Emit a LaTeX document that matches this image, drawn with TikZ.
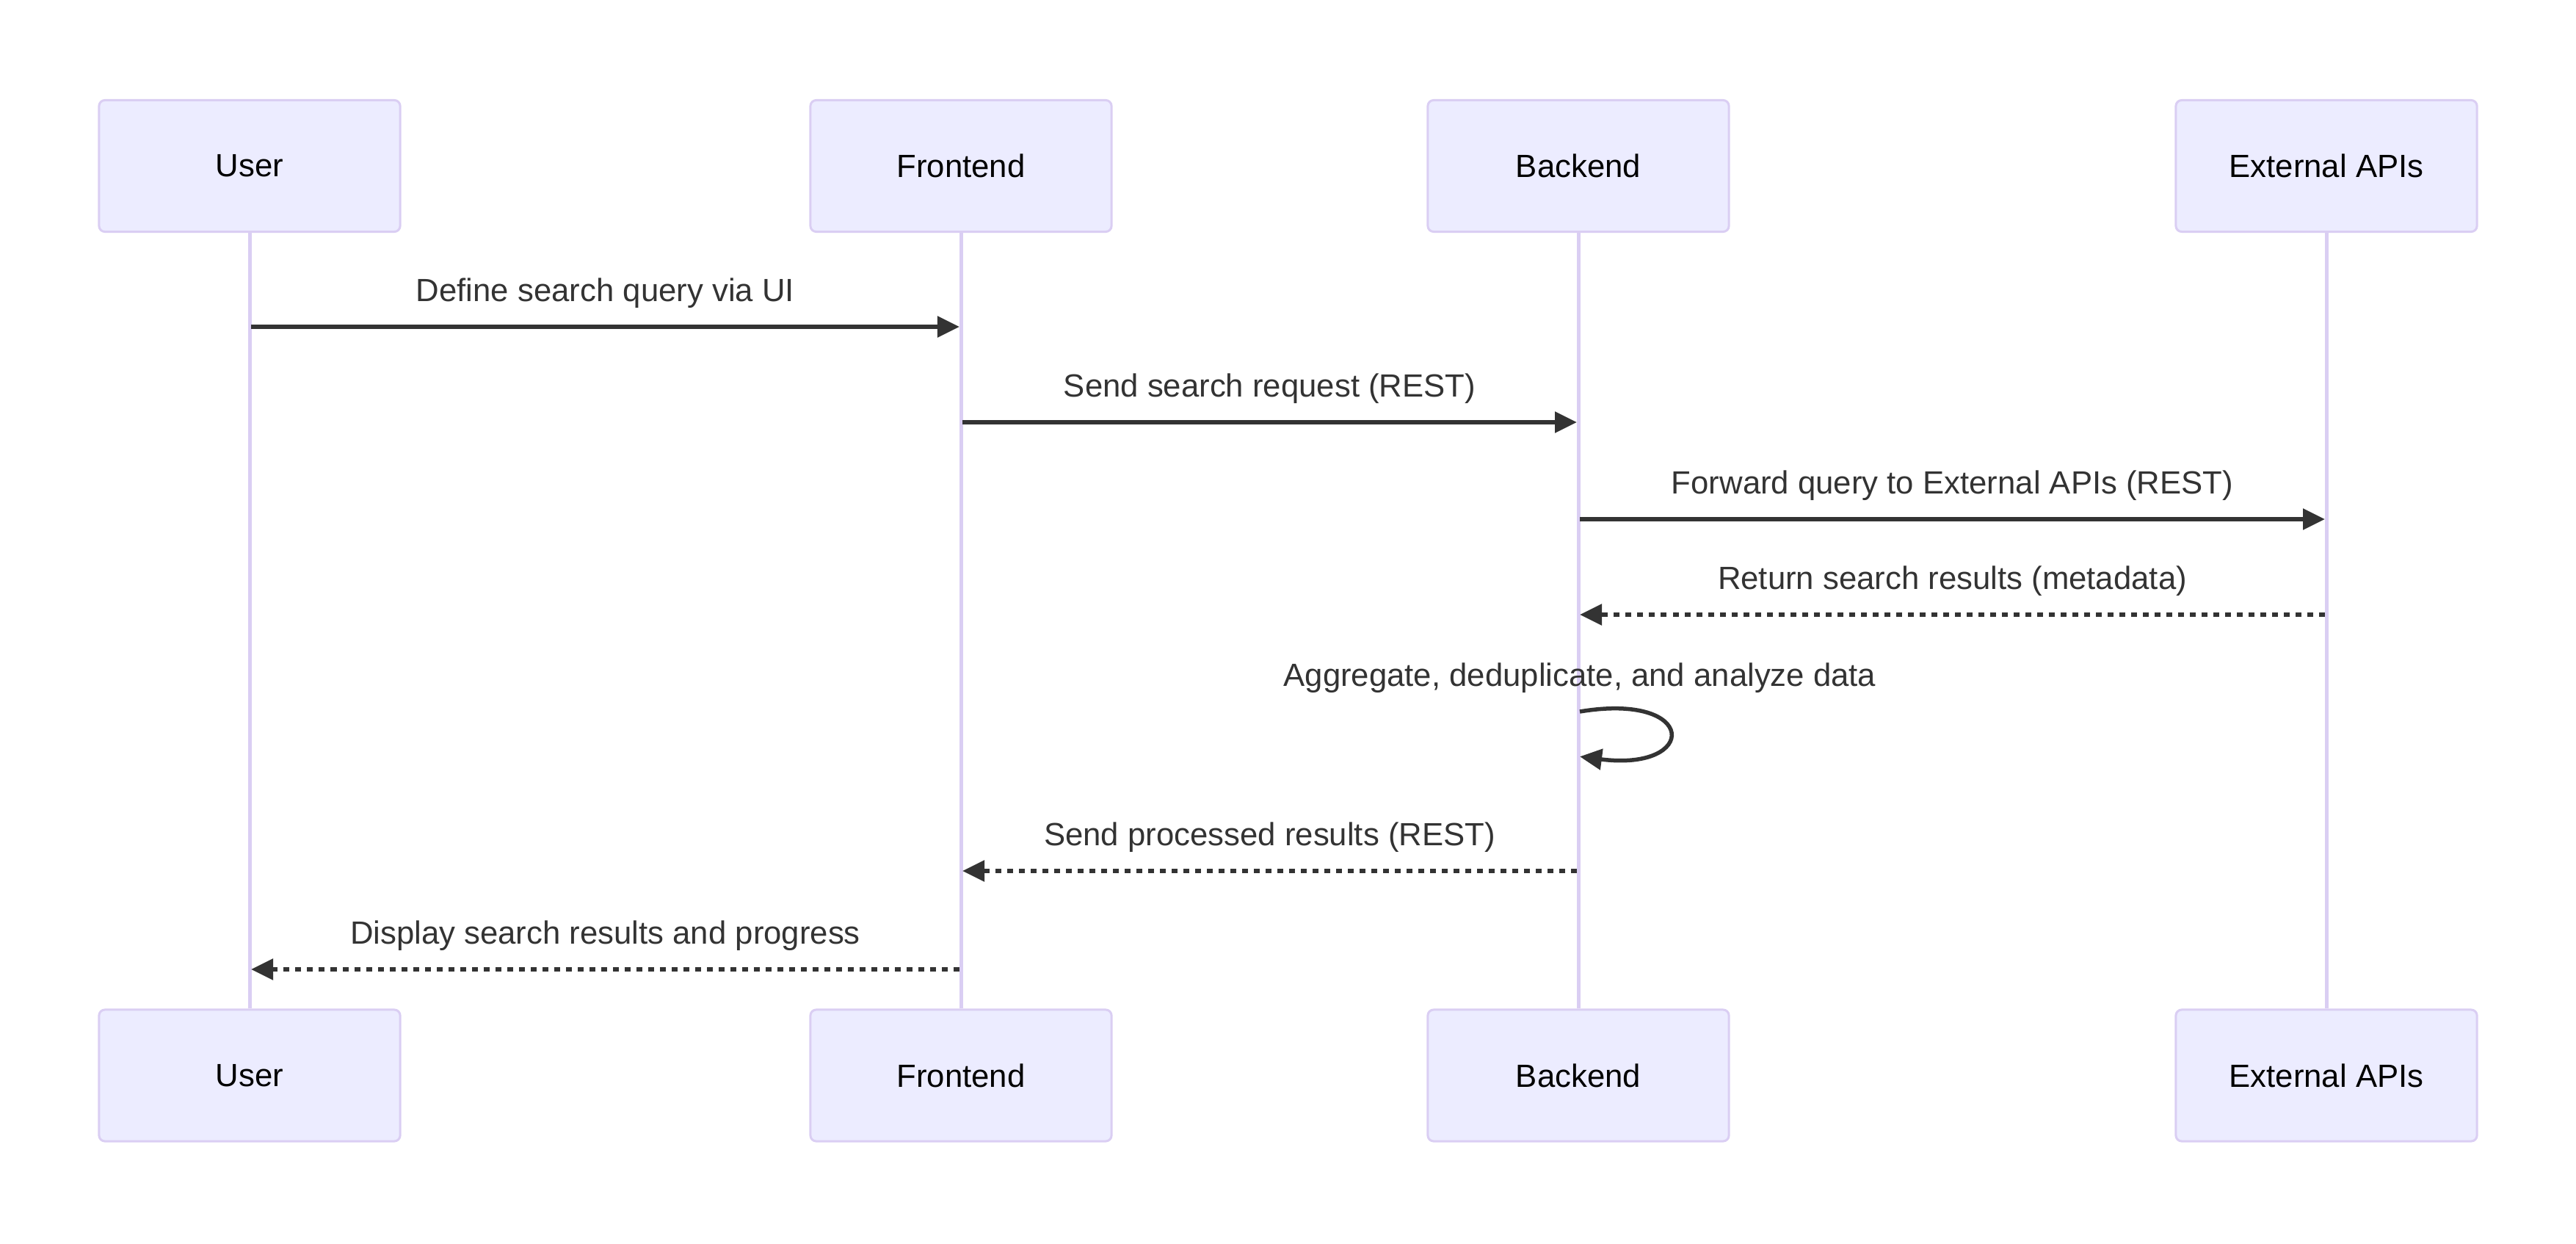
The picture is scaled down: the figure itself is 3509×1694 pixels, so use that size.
\documentclass[tikz,border=0pt]{standalone}
\usepackage{fontspec}
\setmainfont{Liberation Sans}
\usetikzlibrary{arrows.meta}
\definecolor{actfill}{HTML}{ECECFF}
\definecolor{actdraw}{HTML}{DACEF3}
\definecolor{ink}{HTML}{333333}
\begin{document}
\begin{tikzpicture}[x=0.01cm,y=-0.01cm,
  actor/.style={draw=actdraw, fill=actfill, line width=0.03cm, rounded corners=0.08cm,
    minimum width=4.10cm, minimum height=1.79cm, inner sep=0pt,
    font=\fontsize{12.43pt}{15pt}\selectfont, text=black},
  life/.style={draw=actdraw, line width=0.05cm},
  msg/.style={draw=ink, line width=0.055cm, -{Triangle[length=0.3cm,width=0.28cm]}, shorten >=0.02cm},
  dmsg/.style={msg, dash pattern=on 0.08cm off 0.08cm},
  lbl/.style={anchor=base, text=ink, inner sep=0pt, font=\fontsize{12.43pt}{15pt}\selectfont}]
\useasboundingbox (0,0) rectangle (3509,1694);
% actors top
\node[actor] (uT) at (340,226) {User};
\node[actor] (fT) at (1309,226) {Frontend};
\node[actor] (bT) at (2150,226) {Backend};
\node[actor] (eT) at (3169,226) {External APIs};
% actors bottom
\node[actor] (uB) at (340,1464.5) {User};
\node[actor] (fB) at (1309,1464.5) {Frontend};
\node[actor] (bB) at (2150,1464.5) {Backend};
\node[actor] (eB) at (3169,1464.5) {External APIs};
% lifelines
\draw[life] (uT.south) -- (uB.north);
\draw[life] (fT.south) -- (fB.north);
\draw[life] (bT.south) -- (bB.north);
\draw[life] (eT.south) -- (eB.north);
% message endpoints
\coordinate (m1a) at (342,445);  \coordinate (m1b) at (1309,445);
\coordinate (m2a) at (1311,575); \coordinate (m2b) at (2150,575);
\coordinate (m3a) at (2152,707); \coordinate (m3b) at (3169,707);
\coordinate (m4a) at (3167,837); \coordinate (m4b) at (2150,837);
\coordinate (m5a) at (2152,969); \coordinate (m5b) at (2150,1030);
\coordinate (m6a) at (2148,1186); \coordinate (m6b) at (1309,1186);
\coordinate (m7a) at (1307,1320); \coordinate (m7b) at (340,1320);
% messages
\draw[msg] (m1a) -- (m1b);
\node[lbl] (l1) at (824.5,410) {Define search query via UI};
\draw[msg] (m2a) -- (m2b);
\node[lbl] (l2) at (1729.5,540) {Send search request (REST)};
\draw[msg] (m3a) -- (m3b);
\node[lbl] (l3) at (2659.5,672) {Forward query to External APIs (REST)};
\draw[dmsg] (m4a) -- (m4b);
\node[lbl] (l4) at (2659.5,802) {Return search results (metadata)};
\draw[msg] (m5a) .. controls (2314,942) and (2314,1051) .. (m5b);
\node[lbl] (l5) at (2152,934) {Aggregate, deduplicate, and analyze data};
\draw[dmsg] (m6a) -- (m6b);
\node[lbl] (l6) at (1729.5,1151) {Send processed results (REST)};
\draw[dmsg] (m7a) -- (m7b);
\node[lbl] (l7) at (824.5,1285) {Display search results and progress};
\end{tikzpicture}
\end{document}
